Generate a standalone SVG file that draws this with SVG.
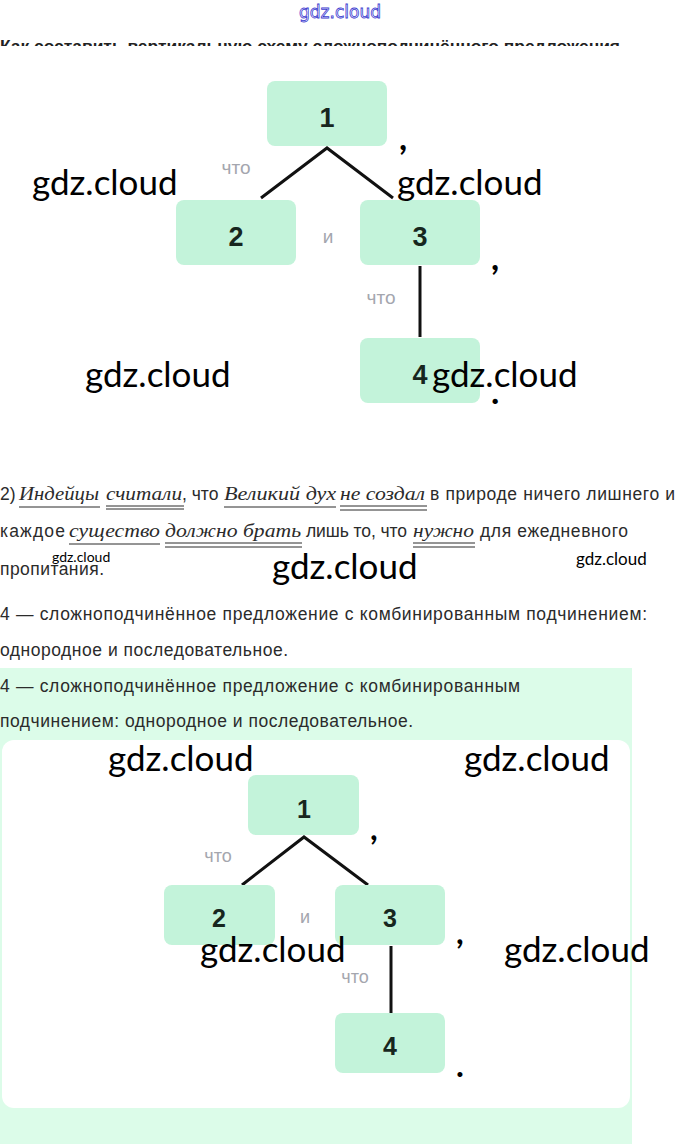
<svg xmlns="http://www.w3.org/2000/svg" width="680" height="1144" viewBox="0 0 680 1144">
<style>
.node{fill:#c3f3da}
.num{font-family:"Liberation Sans",Arial,sans-serif;font-weight:bold;fill:#17261e;text-anchor:middle}
.conn{font-family:"Liberation Sans",Arial,sans-serif;fill:#a4a6ae;text-anchor:middle}
.edge{stroke:#111;stroke-width:3;fill:none}
.wm{font-family:Lato,"Liberation Sans",sans-serif;fill:#000}
.pun{font-family:Lato,"Liberation Sans",sans-serif;font-weight:bold;fill:#000}
.body{font-family:"Liberation Sans",Arial,sans-serif;font-size:17.5px;fill:#2b2b2b}
.it{font-family:"Liberation Serif","Times New Roman",serif;font-style:italic;font-size:19px;fill:#2b2b2b}
.ul{stroke:#2b2b2b;stroke-width:1}
</style>
<defs>
<clipPath id="hclip"><rect x="0" y="0" width="680" height="46"/></clipPath>
</defs>
<rect width="680" height="1144" fill="#fff"/>
<text x="340" y="18" text-anchor="middle" font-family="'DejaVu Sans',sans-serif" font-size="17" fill="#fff" stroke="#3b3bd0" stroke-width="0.8">gdz.cloud</text>
<g clip-path="url(#hclip)">
<text x="0" y="52" font-family="'Liberation Sans',Arial,sans-serif" font-weight="bold" font-size="16" fill="#222" textLength="620" lengthAdjust="spacingAndGlyphs">Как составить вертикальную схему сложноподчинённого предложения</text>
</g>

<!-- top diagram -->
<g id="connectors-top">
<path class="edge" d="M261,198 L327,148 L393,198"/>
<path class="edge" d="M420,266 V337"/>
</g>
<g id="t-n1"><rect class="node" x="267" y="81" width="120" height="65" rx="8"/><text class="num" x="327" y="127" font-size="27">1</text></g>
<g id="t-n2"><rect class="node" x="176" y="200" width="120" height="65" rx="8"/><text class="num" x="236" y="246" font-size="27">2</text></g>
<g id="t-n3"><rect class="node" x="360" y="200" width="120" height="65" rx="8"/><text class="num" x="420" y="246" font-size="27">3</text></g>
<g id="t-n4"><rect class="node" x="360" y="338" width="120" height="65" rx="8"/><text class="num" x="420" y="384" font-size="27">4</text></g>
<text class="conn" x="236" y="174" font-size="19">что</text>
<text class="conn" x="328" y="243" font-size="19">и</text>
<text class="conn" x="381" y="304" font-size="19">что</text>
<text class="pun" x="399" y="150" font-size="35">,</text>
<text class="pun" x="491" y="270" font-size="35">,</text>
<text class="pun" x="491" y="404" font-size="35">.</text>

<!-- paragraph -->
<text class="body" x="0" y="500">2)</text>
<text class="it" x="19" y="500" textLength="80" lengthAdjust="spacingAndGlyphs">Индейцы</text>
<text class="it" x="106" y="500" textLength="76" lengthAdjust="spacingAndGlyphs">считали</text>
<text class="body" x="182" y="500">, что</text>
<text class="it" x="224" y="500" textLength="112" lengthAdjust="spacingAndGlyphs">Великий дух</text>
<text class="it" x="340" y="500" textLength="85" lengthAdjust="spacingAndGlyphs">не создал</text>
<text class="body" x="430" y="500" textLength="245" lengthAdjust="spacing">в природе ничего лишнего и</text>
<line class="ul" x1="19" y1="507" x2="100" y2="507"/>
<line class="ul" x1="106" y1="506" x2="184" y2="506"/><line class="ul" x1="106" y1="509" x2="184" y2="509"/>
<line class="ul" x1="224" y1="507" x2="336" y2="507"/>
<line class="ul" x1="340" y1="506" x2="427" y2="506"/><line class="ul" x1="340" y1="510" x2="427" y2="510"/>

<text class="body" x="0" y="537" textLength="65" lengthAdjust="spacing">каждое</text>
<text class="it" x="69" y="537" textLength="91" lengthAdjust="spacingAndGlyphs">существо</text>
<text class="it" x="165" y="537" textLength="136" lengthAdjust="spacingAndGlyphs">должно брать</text>
<text class="body" x="306" y="537" textLength="101" lengthAdjust="spacing">лишь то, что</text>
<text class="it" x="413" y="537" textLength="61" lengthAdjust="spacingAndGlyphs">нужно</text>
<text class="body" x="480" y="537" textLength="148" lengthAdjust="spacing">для ежедневного</text>
<line class="ul" x1="69" y1="544" x2="160" y2="544"/>
<line class="ul" x1="165" y1="543" x2="302" y2="543"/><line class="ul" x1="165" y1="547" x2="302" y2="547"/>
<line class="ul" x1="413" y1="543" x2="475" y2="543"/><line class="ul" x1="413" y1="547" x2="475" y2="547"/>
<text class="body" x="0" y="575" textLength="104" lengthAdjust="spacing">пропитания.</text>

<text class="body" x="0" y="620" textLength="647" lengthAdjust="spacing">4 — сложноподчинённое предложение с комбинированным подчинением:</text>
<text class="body" x="0" y="656" textLength="288" lengthAdjust="spacing">однородное и последовательное.</text>

<!-- green panel -->
<rect x="0" y="668" width="632" height="476" fill="#dcfce9"/>
<text class="body" x="0" y="692" textLength="520" lengthAdjust="spacing">4 — сложноподчинённое предложение с комбинированным</text>
<text class="body" x="0" y="727" textLength="413" lengthAdjust="spacing">подчинением: однородное и последовательное.</text>
<rect x="2" y="740" width="628" height="368" rx="12" fill="#fff"/>

<!-- lower diagram -->
<g id="connectors-bottom">
<path class="edge" d="M242,885 L304,837 L368,885"/>
<path class="edge" d="M391,946 V1013"/>
</g>
<g id="b-n1"><rect class="node" x="248" y="775" width="111" height="60" rx="8"/><text class="num" x="304" y="818" font-size="25">1</text></g>
<g id="b-n2"><rect class="node" x="164" y="885" width="111" height="60" rx="8"/><text class="num" x="219" y="927" font-size="25">2</text></g>
<g id="b-n3"><rect class="node" x="335" y="885" width="110" height="60" rx="8"/><text class="num" x="390" y="927" font-size="25">3</text></g>
<g id="b-n4"><rect class="node" x="335" y="1013" width="110" height="60" rx="8"/><text class="num" x="390" y="1055" font-size="25">4</text></g>
<text class="conn" x="218" y="862" font-size="18">что</text>
<text class="conn" x="305" y="923" font-size="18">и</text>
<text class="conn" x="355" y="983" font-size="18">что</text>
<text class="pun" x="370" y="840" font-size="33">,</text>
<text class="pun" x="456" y="944" font-size="33">,</text>
<text class="pun" x="456" y="1077" font-size="33">.</text>

<!-- watermarks -->
<g id="watermarks">
<text class="wm" x="32" y="195" font-size="35">gdz.cloud</text>
<text class="wm" x="397" y="195" font-size="35">gdz.cloud</text>
<text class="wm" x="85" y="387" font-size="35">gdz.cloud</text>
<text class="wm" x="432" y="387" font-size="35">gdz.cloud</text>
<text class="wm" x="272" y="579" font-size="35">gdz.cloud</text>
<text class="wm" x="52" y="562" font-size="14">gdz.cloud</text>
<text class="wm" x="576" y="565" font-size="17">gdz.cloud</text>
<text class="wm" x="108" y="771" font-size="35">gdz.cloud</text>
<text class="wm" x="464" y="771" font-size="35">gdz.cloud</text>
<text class="wm" x="200" y="962" font-size="35">gdz.cloud</text>
<text class="wm" x="504" y="962" font-size="35">gdz.cloud</text>
</g>
</svg>
